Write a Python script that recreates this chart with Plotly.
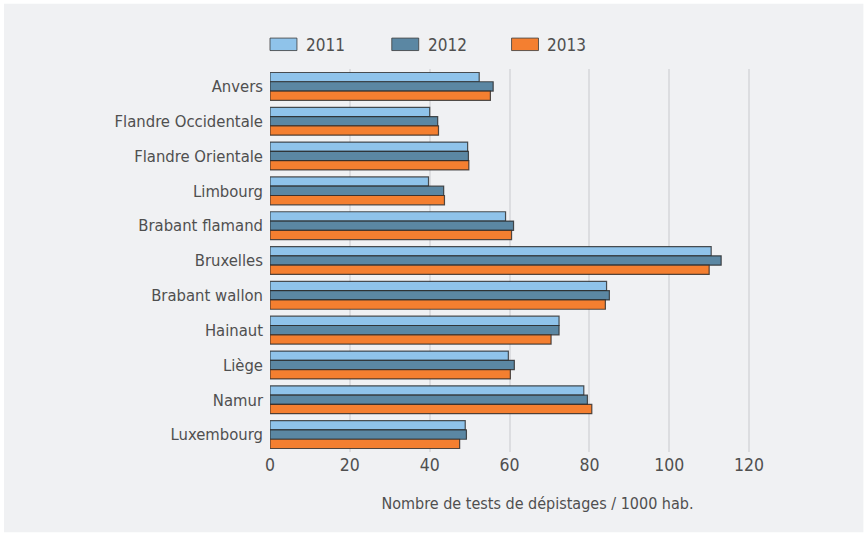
import plotly.graph_objects as go

provinces = ["Anvers", "Flandre Occidentale", "Flandre Orientale", "Limbourg",
             "Brabant flamand", "Bruxelles", "Brabant wallon", "Hainaut",
             "Liège", "Namur", "Luxembourg"]
years = ["2011", "2012", "2013"]
v2011 = [52.4, 40.0, 49.5, 39.7, 59.0, 110.5, 84.3, 72.4, 59.7, 78.6, 48.9]
v2012 = [55.9, 42.0, 49.7, 43.5, 61.0, 113.0, 85.0, 72.4, 61.2, 79.5, 49.2]
v2013 = [55.2, 42.2, 49.8, 43.7, 60.5, 110.0, 84.0, 70.4, 60.2, 80.6, 47.5]
series = [v2011, v2012, v2013]
colors = ["#8fc3ea", "#5b87a3", "#f47f30"]
x_ticks = [0, 20, 40, 60, 80, 100, 120]
x_title = "Nombre de tests de dépistages / 1000 hab."

W, H = 867, 536
ML, MR, MT, MB = 269.5, 61.5, 68.5, 83.5
PW, PH = W - ML - MR, H - MT - MB
FONT = "DejaVu Sans Condensed, sans-serif"
TXT = "#4f4f4f"
PANEL = "#f0f1f3"

fig = go.Figure()
for yr, vals, c in zip(years, series, colors):
    fig.add_trace(go.Bar(
        y=provinces, x=vals, name=yr, orientation="h",
        marker=dict(color=c, line=dict(color="rgba(40,40,40,0.8)", width=1.2)),
        showlegend=False,
    ))

def px_x(p):
    return (p - ML) / PW

def px_y(p):
    return (H - MB - p) / PH

shapes = [dict(type="rect", xref="paper", yref="paper", layer="below",
               x0=px_x(3), x1=px_x(864), y0=px_y(533), y1=px_y(3),
               fillcolor=PANEL, line=dict(width=0))]
annotations = []
leg_x = [269.5, 391.5, 511.5]
for yr, c, lx in zip(years, colors, leg_x):
    shapes.append(dict(type="rect", xref="paper", yref="paper",
                       x0=px_x(lx), x1=px_x(lx + 27), y0=px_y(50), y1=px_y(37.5),
                       fillcolor=c, line=dict(color="rgba(60,60,60,0.8)", width=1)))
    annotations.append(dict(text=yr, xref="paper", yref="paper",
                            x=px_x(lx + 34), y=px_y(44), xanchor="left", yanchor="middle",
                            showarrow=False, font=dict(family=FONT, size=17, color=TXT)))

fig.update_layout(
    width=W, height=H,
    margin=dict(l=ML, r=MR, t=MT, b=MB, pad=0),
    paper_bgcolor="white", plot_bgcolor="rgba(0,0,0,0)",
    barmode="group", bargap=0.2, bargroupgap=0,
    font=dict(family=FONT, size=16, color=TXT),
    shapes=shapes, annotations=annotations,
    xaxis=dict(range=[0, 134], tickvals=x_ticks, showgrid=True,
               gridcolor="#dcdde0", gridwidth=1.5, zeroline=False,
               showline=False, ticks="", tickfont=dict(size=17.5, color=TXT),
               title=dict(text=x_title, font=dict(size=16, color=TXT), standoff=24)),
    yaxis=dict(autorange="reversed", showgrid=False, zeroline=False, showline=False,
               ticks="", ticklabelstandoff=6, tickfont=dict(size=16.5, color=TXT)),
)

fig.write_html("out.html", config={"displayModeBar": False},
               post_script="document.body.style.margin='0';")
